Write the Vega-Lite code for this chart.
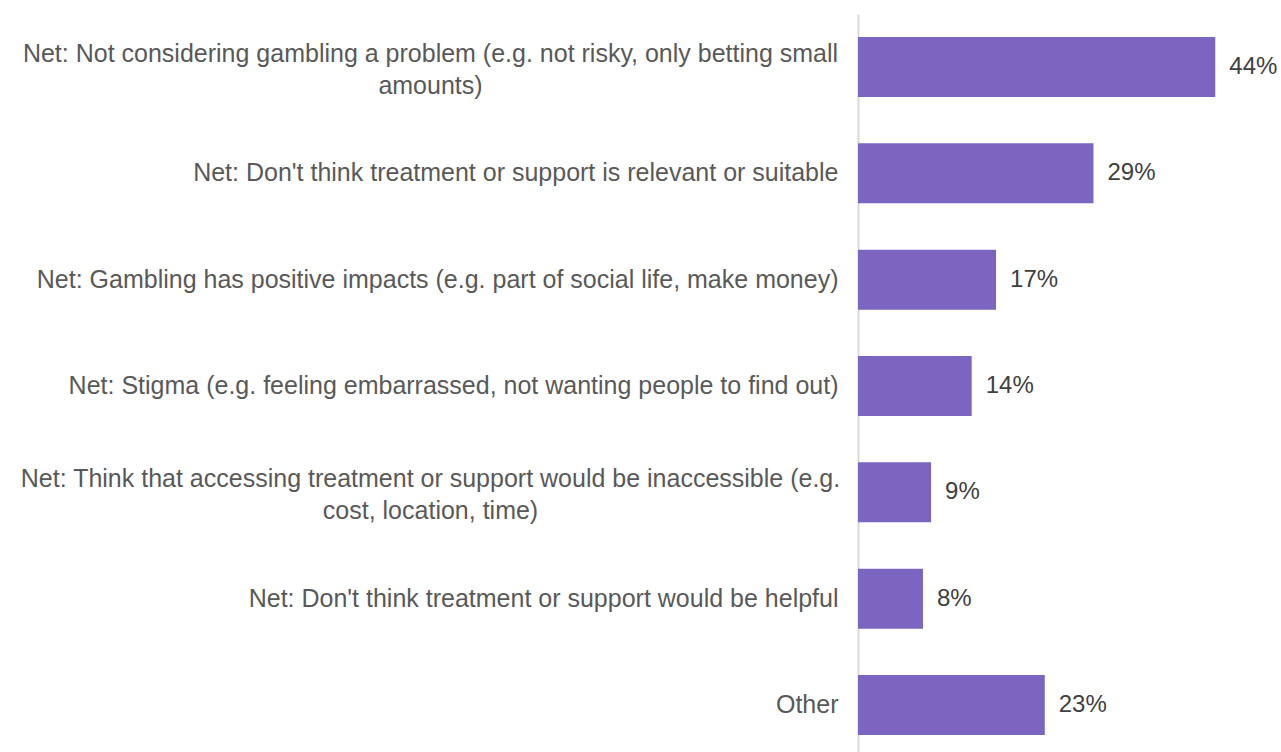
{
  "$schema": "https://vega.github.io/schema/vega-lite/v6.json",
  "autosize": {"type": "none"},
  "padding": {"left": 858, "top": 14, "right": 17, "bottom": 0},
  "width": 406,
  "height": 744,
  "background": "white",
  "config": {"view": {"stroke": null}, "font": "Liberation Sans"},
  "data": {"values": [
    {"reason": "Net: Not considering gambling a problem (e.g. not risky, only betting small|amounts)", "value": 0.44, "label": "44%"},
    {"reason": "Net: Don't think treatment or support is relevant or suitable\u00a0", "value": 0.29, "label": "29%"},
    {"reason": "Net: Gambling has positive impacts (e.g. part of social life, make money)", "value": 0.17, "label": "17%"},
    {"reason": "Net: Stigma (e.g. feeling embarrassed, not wanting people to find out)", "value": 0.14, "label": "14%"},
    {"reason": "Net: Think that accessing treatment or support would be inaccessible (e.g.|cost, location, time)", "value": 0.09, "label": "9%"},
    {"reason": "Net: Don't think treatment or support would be helpful", "value": 0.08, "label": "8%"},
    {"reason": "Other", "value": 0.23, "label": "23%"}
  ]},
  "encoding": {
    "y": {
      "field": "reason", "type": "nominal", "sort": null,
      "scale": {"paddingInner": 0.436, "paddingOuter": 0.216},
      "axis": {
        "title": null, "ticks": false, "domain": true, "domainColor": "#d9d9d9", "domainWidth": 2,
        "labelExpr": "split(datum.value, '|')",
        "labelFont": "Liberation Sans", "labelFontSize": 25, "labelColor": "#595959",
        "labelLimit": 900, "labelLineHeight": 32,
        "labelPadding": {"condition": {"test": "indexof(datum.value, '|') >= 0", "value": 428}, "value": 20},
        "labelOffset": {"condition": {"test": "indexof(datum.value, '|') >= 0", "value": -13}, "value": 0},
        "labelAlign": {"condition": {"test": "indexof(datum.value, '|') >= 0", "value": "center"}, "value": "right"}
      }
    },
    "x": {
      "field": "value", "type": "quantitative",
      "scale": {"domain": [0, 0.5]},
      "axis": null
    }
  },
  "layer": [
    {"mark": {"type": "bar", "color": "#7c65c1"}},
    {"mark": {"type": "text", "align": "left", "dx": 14, "font": "Liberation Sans", "fontSize": 24, "color": "#404040"},
     "encoding": {"text": {"field": "label"}}}
  ]
}
